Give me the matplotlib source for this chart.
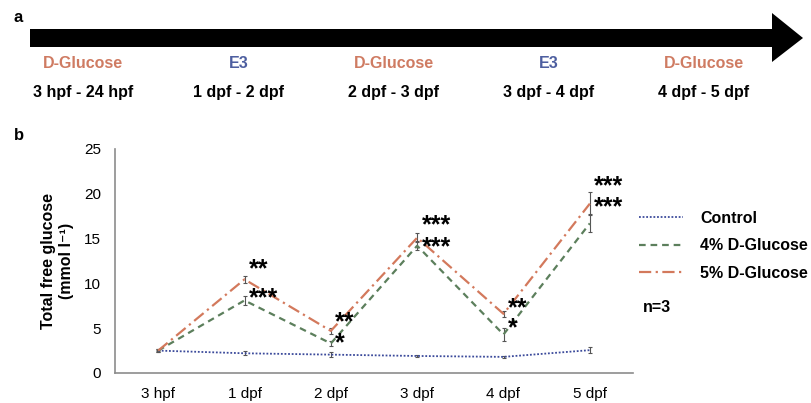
import numpy as np
import matplotlib
matplotlib.use("Agg")
import matplotlib.pyplot as plt
from matplotlib.patches import Polygon

plt.rcParams["font.family"] = ["Liberation Sans", "DejaVu Sans"]

# ---------------------------
# DATA
# ---------------------------
timepoints = ["3 hpf", "1 dpf", "2 dpf", "3 dpf", "4 dpf", "5 dpf"]

control = [2.5, 2.2, 2.05, 1.9, 1.8, 2.55]
control_err = [0.1, 0.2, 0.3, 0.15, 0.1, 0.35]

glc4 = [2.5, 8.1, 3.3, 14.2, 4.3, 16.7]
glc4_err = [0.15, 0.5, 0.3, 0.5, 0.7, 1.0]

glc5 = [2.5, 10.45, 4.7, 15.1, 6.6, 18.9]
glc5_err = [0.15, 0.4, 0.3, 0.5, 0.3, 1.3]

# significance marks per timepoint: upper (5%) and lower (4%) row
stars_x = [1, 2, 3, 4, 5]
stars_top = ["**", "**", "***", "**", "***"]
stars_bot = ["***", "*", "***", "*", "***"]
stars_ytop = [12.0, 6.0, 16.8, 7.6, 21.2]
stars_ybot = [8.8, 3.9, 14.6, 5.5, 19.0]

# timeline (panel a)
treatments = ["D-Glucose", "E3", "D-Glucose", "E3", "D-Glucose"]
periods = ["3 hpf - 24 hpf", "1 dpf - 2 dpf", "2 dpf - 3 dpf",
           "3 dpf - 4 dpf", "4 dpf - 5 dpf"]

C_BLUE = "#3b4a9b"
C_GREEN = "#5c7f5c"
C_ORANGE = "#d3795c"
treat_colors = {"D-Glucose": "#cf7b62", "E3": "#4e5fa0"}

W, H = 811, 403
fig = plt.figure(figsize=(W / 100, H / 100), dpi=100)

# ---------------------------
# PANEL A - timeline arrow
# ---------------------------
top = fig.add_axes([0, 0, 1, 1])
top.set_xlim(0, W)
top.set_ylim(H, 0)
top.axis("off")

arrow = Polygon([(30, 29), (772, 29), (772, 13), (803, 38),
                 (772, 62), (772, 47), (30, 47)],
                closed=True, color="black", lw=0)
top.add_patch(arrow)

top.text(18, 17, "a", fontsize=12, fontweight="bold", ha="center", va="center")
top.text(19, 136, "b", fontsize=12, fontweight="bold", ha="center", va="center")

xc = np.linspace(83, 704, len(periods))
for x, tr, pr in zip(xc, treatments, periods):
    top.text(x, 63, tr, color=treat_colors[tr], fontsize=11.5,
             fontweight="bold", ha="center", va="center")
    top.text(x, 93, pr, fontsize=11.5, fontweight="bold",
             ha="center", va="center")

# ---------------------------
# PANEL B - glucose chart
# ---------------------------
ax_h = 224
ax = fig.add_axes([115 / W, (H - 373) / H, 518 / W, ax_h / H])
x = np.arange(len(timepoints))

eb = dict(ecolor="#555555", elinewidth=0.8, capsize=1.5, capthick=0.8)
ax.errorbar(x, control, yerr=control_err, color=C_BLUE, lw=1.3,
            ls=(0, (1, 1)), label="Control", **eb)
ax.errorbar(x, glc4, yerr=glc4_err, color=C_GREEN, lw=1.6,
            ls=(0, (3, 2.2)), label="4% D-Glucose", **eb)
ax.errorbar(x, glc5, yerr=glc5_err, color=C_ORANGE, lw=1.6,
            ls=(0, (5.5, 2, 1, 2)), label="5% D-Glucose", **eb)

star_fs = 18
px_per_unit = ax_h / 25
line_px = star_fs * 100 / 72 * 0.9
for xi, t1, t2, y1, y2 in zip(stars_x, stars_top, stars_bot,
                              stars_ytop, stars_ybot):
    gap = (y1 - y2) * px_per_unit
    ax.text(xi + 0.05, (y1 + y2) / 2 - 0.45, t1 + "\n" + t2,
            fontsize=star_fs, fontweight="bold", ha="left", va="center",
            linespacing=gap / line_px)

ax.set_xlim(-0.5, len(timepoints) - 0.5)
ax.set_ylim(0, 25)
ax.set_yticks([0, 5, 10, 15, 20, 25])
ax.set_xticks(x)
ax.set_xticklabels(timepoints)
ax.tick_params(length=0, labelsize=11, pad=10)
ax.tick_params(axis="y", pad=10)

for s in ["top", "right"]:
    ax.spines[s].set_visible(False)
for s in ["left", "bottom"]:
    ax.spines[s].set_color("#8c8c8c")
    ax.spines[s].set_linewidth(1.2)

ax.set_ylabel("Total free glucose\n(mmol l\u207b\u00b9)", fontsize=11.5,
              fontweight="bold", linespacing=1.3, labelpad=7)

handles, labels = ax.get_legend_handles_labels()
handles = [h[0] for h in handles]
fig.legend(handles, labels, loc="upper left",
           bbox_to_anchor=(639 / W, 1 - 211 / H),
           frameon=False, borderaxespad=0, borderpad=0,
           handlelength=2.75, handletextpad=1.1, labelspacing=0.78,
           prop=dict(size=11.5, weight="bold"))

fig.text(643 / W, 1 - 308 / H, "n=3", fontsize=11.5, fontweight="bold",
         ha="left", va="center")

plt.savefig("out.png", dpi=100)
